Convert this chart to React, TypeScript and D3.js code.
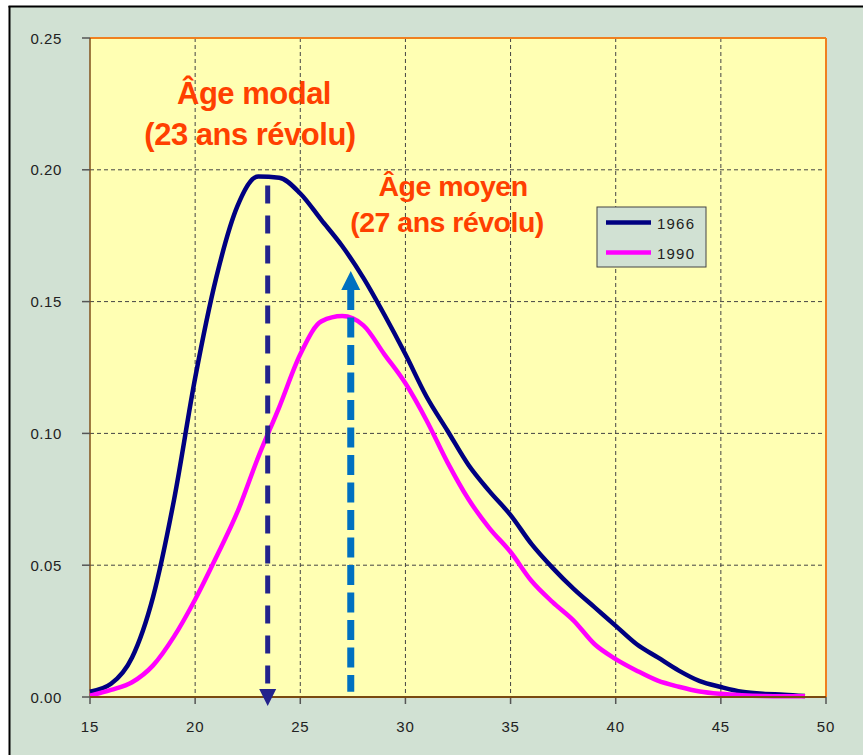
import React from 'react';
import * as d3 from 'd3';

const AGES = [15, 16, 17, 18, 19, 20, 21, 22, 23, 24, 25, 26, 27, 28, 29, 30, 31, 32, 33, 34, 35, 36, 37, 38, 39, 40, 41, 42, 43, 44, 45, 46, 47, 48, 49];
const RATE_1966 = [0.002, 0.005, 0.015, 0.038, 0.075, 0.121, 0.159, 0.186, 0.1975, 0.197, 0.191, 0.181, 0.171, 0.159, 0.145, 0.13, 0.114, 0.101, 0.088, 0.078, 0.069, 0.058, 0.049, 0.041, 0.034, 0.027, 0.02, 0.015, 0.01, 0.006, 0.0038, 0.002, 0.0012, 0.0009, 0.0004];
const RATE_1990 = [0.0005, 0.0027, 0.0056, 0.012, 0.023, 0.037, 0.053, 0.07, 0.091, 0.11, 0.13, 0.1425, 0.1445, 0.141, 0.13, 0.119, 0.105, 0.089, 0.075, 0.064, 0.055, 0.044, 0.036, 0.029, 0.02, 0.0144, 0.01, 0.0062, 0.0039, 0.0021, 0.0012, 0.0007, 0.0004, 0.0003, 0.0003];
const SERIES_NAMES = ['1966', '1990'];
const SERIES_COLORS = ['#000080', '#FF00FF'];
const X_TICKS = [15, 20, 25, 30, 35, 40, 45, 50];
const Y_TICKS = [0, 0.05, 0.1, 0.15, 0.2, 0.25];
const MODAL_AGE = 23.45;
const MODAL_TOP = 0.194;
const MEAN_AGE = 27.4;
const MEAN_TOP = 0.1616;
const MODAL_LABEL = ['Âge modal', '(23 ans révolu)'];
const MEAN_LABEL = ['Âge moyen', '(27 ans révolu)'];

const W = 863;
const H = 755;
const L = 90, R = 826, T = 38, B = 697;

export default function App() {
  const x = d3.scaleLinear().domain([15, 50]).range([L, R]);
  const y = d3.scaleLinear().domain([0, 0.25]).range([B, T]);
  const line = d3
    .line<number>()
    .x((_, i) => x(AGES[i]))
    .y((d) => y(d))
    .curve(d3.curveMonotoneX);
  const series = [RATE_1966, RATE_1990];
  const font = "'Liberation Sans', Arial, sans-serif";

  const mx = x(MODAL_AGE);
  const vx = x(MEAN_AGE);
  const vTip = y(MEAN_TOP);

  return (
    <svg
      width={W}
      height={H}
      style={{ position: 'absolute', left: 0, top: 0 }}
      fontFamily={font}
    >
      <rect x={0} y={0} width={W} height={H} fill="#ffffff" />
      <rect x={9.5} y={6.5} width={W} height={H} fill="#D1E1D3" />
      <line x1={8.5} y1={6.5} x2={W} y2={6.5} stroke="#000" strokeWidth={2} />
      <line x1={9.5} y1={6} x2={9.5} y2={H} stroke="#000" strokeWidth={2} />

      <rect x={L} y={T} width={R - L} height={B - T} fill="#FFFFB3" />

      {/* gridlines */}
      {X_TICKS.filter((t) => t > 15 && t < 50).map((t) => (
        <line key={'gx' + t} x1={x(t)} x2={x(t)} y1={T} y2={B} stroke="#444" strokeWidth={1} strokeDasharray="4,3" />
      ))}
      {Y_TICKS.filter((t) => t > 0 && t < 0.25).map((t) => (
        <line key={'gy' + t} x1={L} x2={R} y1={y(t)} y2={y(t)} stroke="#444" strokeWidth={1} strokeDasharray="4,3" />
      ))}

      {/* borders */}
      <line x1={L} x2={R} y1={T} y2={T} stroke="#F0801F" strokeWidth={2} />
      <line x1={R} x2={R} y1={T} y2={B} stroke="#F0801F" strokeWidth={2} />
      <line x1={L} x2={L} y1={T} y2={B} stroke="#80501A" strokeWidth={1.5} />

      {/* y ticks */}
      {Y_TICKS.map((t) => (
        <g key={'ty' + t}>
          <line x1={L - 8} x2={L} y1={y(t)} y2={y(t)} stroke="#555" strokeWidth={1.5} />
          <text x={62} y={y(t) + 5.5} textAnchor="end" fontSize={15} fill="#222" letterSpacing={0.6}>
            {d3.format('.2f')(t)}
          </text>
        </g>
      ))}
      {/* x ticks */}
      {X_TICKS.map((t) => (
        <g key={'tx' + t}>
          <line x1={x(t)} x2={x(t)} y1={B} y2={B + 7} stroke="#555" strokeWidth={1.5} />
          <text x={x(t)} y={732} textAnchor="middle" fontSize={15} fill="#222" letterSpacing={0.8}>
            {t}
          </text>
        </g>
      ))}

      {/* series */}
      {series.map((s, i) => (
        <path key={SERIES_NAMES[i]} d={line(s) || ''} fill="none" stroke={SERIES_COLORS[i]} strokeWidth={4.5} strokeLinejoin="round" />
      ))}

      <line x1={L} x2={R} y1={B} y2={B} stroke="#7A4A10" strokeWidth={2} />

      {/* modal arrow */}
      <line x1={mx} x2={mx} y1={y(MODAL_TOP)} y2={B - 8} stroke="#23238C" strokeWidth={5} strokeDasharray="18,12" />
      <polygon points={`${mx - 8.5},${B - 8} ${mx + 8.5},${B - 8} ${mx},${B + 9}`} fill="#23238C" />

      {/* mean arrow */}
      <line x1={vx} x2={vx} y1={vTip + 19} y2={y(0.002)} stroke="#0070C0" strokeWidth={7} strokeDasharray="20,7.5" />
      <polygon points={`${vx - 9.5},${vTip + 19} ${vx + 9.5},${vTip + 19} ${vx},${vTip}`} fill="#0070C0" />

      {/* annotations */}
      <g fontWeight="bold" fill="#FF4000" textAnchor="middle">
        <text x={254} y={104} fontSize={31} letterSpacing={-0.5}>{MODAL_LABEL[0]}</text>
        <text x={250} y={145} fontSize={31} letterSpacing={-0.5}>{MODAL_LABEL[1]}</text>
        <text x={453} y={196} fontSize={28.5} letterSpacing={-0.5}>{MEAN_LABEL[0]}</text>
        <text x={447} y={232} fontSize={28.5} letterSpacing={-0.5}>{MEAN_LABEL[1]}</text>
      </g>

      {/* legend */}
      <rect x={597} y={207} width={109} height={60} fill="#D1E1D3" stroke="#444" strokeWidth={1} />
      {SERIES_NAMES.map((n, i) => (
        <g key={'lg' + n}>
          <line x1={606} x2={651} y1={222.5 + i * 30} y2={222.5 + i * 30} stroke={SERIES_COLORS[i]} strokeWidth={4.5} />
          <text x={657} y={229 + i * 30} fontSize={15} fill="#222" letterSpacing={1.2}>{n}</text>
        </g>
      ))}
    </svg>
  );
}
